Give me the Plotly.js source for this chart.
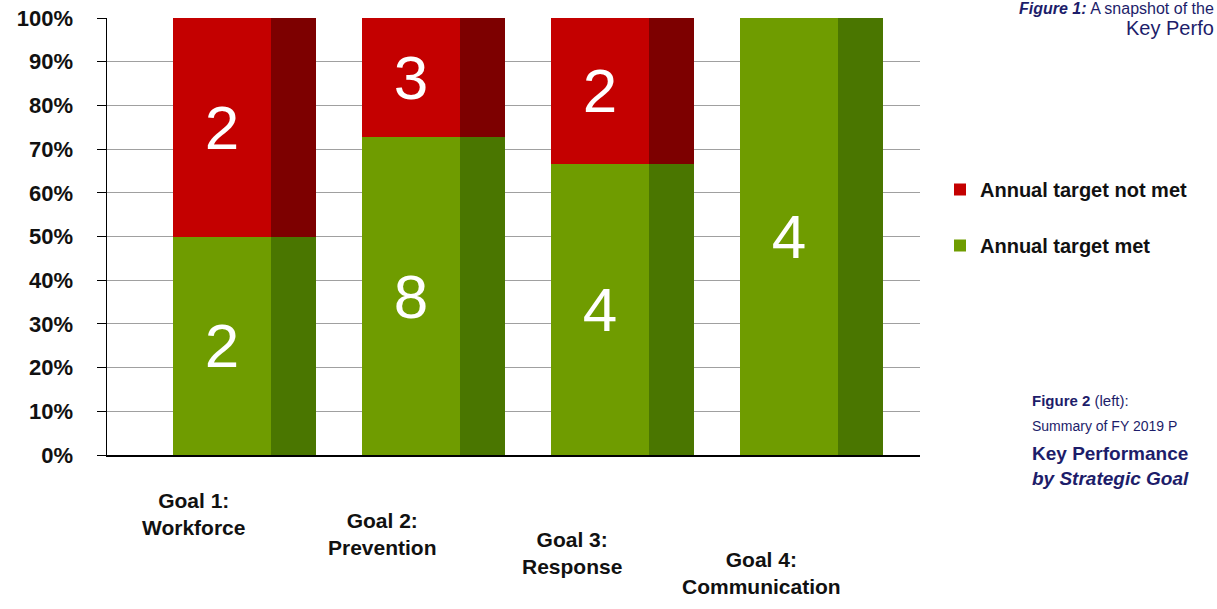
<!DOCTYPE html>
<html>
<head>
<meta charset="utf-8">
<script src="https://cdn.plot.ly/plotly-3.0.1.min.js"></script>
<style>
html,body{margin:0;padding:0;background:#fff;}
#chart{width:1217px;height:609px;}
</style>
</head>
<body>
<div id="chart"></div>
<script>
// ---- data ----
const goals = ["Goal 1:<br>Workforce", "Goal 2:<br>Prevention", "Goal 3:<br>Response", "Goal 4:<br>Communication"];
const targetMet = [2, 8, 4, 4];
const targetNotMet = [2, 3, 2, 0];
const seriesNames = ["Annual target met", "Annual target not met"];

// ---- styles ----
const greenFront = "#6f9c00", greenSide = "#4a7600";
const redFront = "#c40000", redSide = "#7d0000";
const barW = 0.52;
const labelFont = "Liberation Sans, Arial, sans-serif";
const navy = "#1d1d6a";

const lbl = a => a.map(v => v ? String(v) : "");

const traces = [
  // side faces (back, on main x axis)
  {type: "bar", x: goals, y: targetMet, xaxis: "x", yaxis: "y", width: barW,
   marker: {color: greenSide, line: {width: 0}}, showlegend: false, hoverinfo: "skip"},
  {type: "bar", x: goals, y: targetNotMet, xaxis: "x", yaxis: "y", width: barW,
   marker: {color: redSide, line: {width: 0}}, showlegend: false, hoverinfo: "skip"},
  // front faces (overlay x2 axis)
  {type: "bar", name: seriesNames[0], x: goals, y: targetMet, xaxis: "x2", yaxis: "y", width: barW,
   marker: {color: greenFront, line: {width: 0}}, legendgroup: "a", legendrank: 2,
   text: lbl(targetMet), textposition: "inside", insidetextanchor: "middle", constraintext: "none",
   textfont: {family: "Liberation Sans, Arial, sans-serif", size: 62, color: "#ffffff"}},
  {type: "bar", name: seriesNames[1], x: goals, y: targetNotMet, xaxis: "x2", yaxis: "y", width: barW,
   marker: {color: redFront, line: {width: 0}}, legendgroup: "b", legendrank: 1,
   text: lbl(targetNotMet), textposition: "inside", insidetextanchor: "middle", constraintext: "none",
   textfont: {family: "Liberation Sans, Arial, sans-serif", size: 62, color: "#ffffff"}}
];

const labelY = [-0.135, -0.18, -0.225, -0.27];
const annotations = goals.map((g, i) => ({
  xref: "x2", yref: "paper", x: g, y: labelY[i], xshift: -28,
  text: "<b>" + g + "</b>", showarrow: false, xanchor: "center", yanchor: "middle",
  font: {family: labelFont, size: 21, color: "#111"}, align: "center"
}));

// side notes (paper coords relative to plot area: left 107, width 813)
const px = v => (v - 107) / 813;
const py = v => (455 - v) / 437;
annotations.push(
  {xref: "paper", yref: "paper", x: px(1216), y: py(9), xanchor: "right", yanchor: "middle", showarrow: false,
   text: "<b><i>Figure 1:</i></b> A snapshot of the", font: {family: "Liberation Sans, Arial", size: 16, color: navy}},
  {xref: "paper", yref: "paper", x: px(1216), y: py(28), xanchor: "right", yanchor: "middle", showarrow: false,
   text: "Key Perfo", font: {family: "Liberation Sans, Arial", size: 20, color: navy}},
  {xref: "paper", yref: "paper", x: px(1030), y: py(400), xanchor: "left", yanchor: "middle", showarrow: false,
   text: "<b>Figure 2</b> (left):", font: {family: "Liberation Sans, Arial", size: 15, color: navy}},
  {xref: "paper", yref: "paper", x: px(1030), y: py(426), xanchor: "left", yanchor: "middle", showarrow: false,
   text: "Summary of FY 2019 P", font: {family: "Liberation Sans, Arial", size: 14, color: navy}},
  {xref: "paper", yref: "paper", x: px(1030), y: py(453), xanchor: "left", yanchor: "middle", showarrow: false,
   text: "<b>Key Performance</b>", font: {family: "Liberation Sans, Arial", size: 19, color: navy}},
  {xref: "paper", yref: "paper", x: px(1030), y: py(478), xanchor: "left", yanchor: "middle", showarrow: false,
   text: "<b><i>by Strategic Goal</i></b>", font: {family: "Liberation Sans, Arial", size: 19, color: navy}}
);

const layout = {
  width: 1217, height: 609,
  margin: {l: 107, r: 297, t: 18, b: 154},
  paper_bgcolor: "#ffffff", plot_bgcolor: "#ffffff",
  barmode: "stack", barnorm: "percent",
  showlegend: true,
  legend: {x: px(940), y: py(170), xanchor: "left", yanchor: "top", traceorder: "grouped",
    tracegroupgap: 27, itemwidth: 30,
    font: {family: "Liberation Sans, Arial", size: 20, color: "#111", weight: "bold"}},
  xaxis: {type: "category", range: [-0.846, 3.455], showticklabels: false, showgrid: false,
    showline: true, linecolor: "#000", linewidth: 1.5, ticks: "", zeroline: false, fixedrange: true},
  xaxis2: {type: "category", overlaying: "x", range: [-0.608, 3.693], visible: false, fixedrange: true},
  yaxis: {range: [0, 100], dtick: 10, ticksuffix: "%", showgrid: true, gridcolor: "#a0a0a0", gridwidth: 1,
    showline: true, linecolor: "#000", linewidth: 1.5, ticks: "outside", ticklen: 9, tickcolor: "#000",
    ticklabelstandoff: 19, zeroline: false, fixedrange: true,
    tickfont: {family: "Liberation Sans, Arial", size: 22, color: "#111", weight: "bold"}},
  annotations: annotations,
  font: {family: "Liberation Sans, Arial, sans-serif"}
};

Plotly.newPlot("chart", traces, layout, {displayModeBar: false, staticPlot: true});
</script>
</body>
</html>
